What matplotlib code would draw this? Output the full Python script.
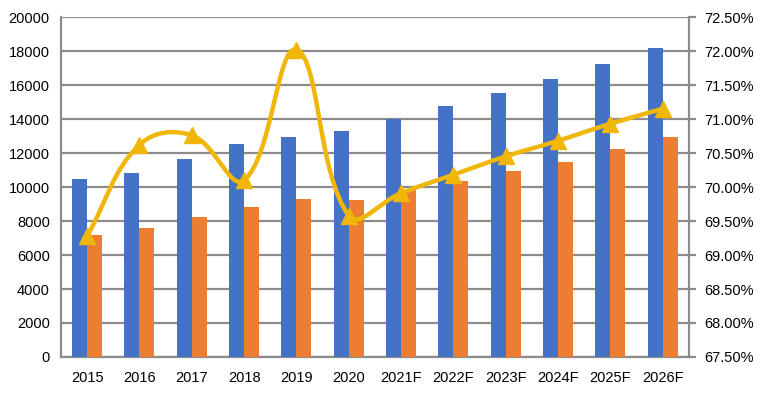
import numpy as np
import matplotlib
matplotlib.use("Agg")
import matplotlib.pyplot as plt
from matplotlib.path import Path
from matplotlib.patches import PathPatch
from matplotlib.ticker import FuncFormatter

plt.rcParams['font.family'] = ['Liberation Sans', 'DejaVu Sans']

years = ["2015", "2016", "2017", "2018", "2019", "2020",
         "2021F", "2022F", "2023F", "2024F", "2025F", "2026F"]
blue_vals = [10450, 10850, 11650, 12550, 12950, 13300,
             14000, 14750, 15550, 16350, 17250, 18200]
orange_vals = [7200, 7600, 8250, 8800, 9300, 9250,
               9850, 10350, 10950, 11500, 12250, 12950]
ratio_pct = [69.28, 70.62, 70.76, 70.10, 72.02, 69.58,
             69.91, 70.18, 70.45, 70.68, 70.93, 71.15]

BLUE = "#4472C4"
ORANGE = "#ED7D31"
GOLD = "#F0B70A"
GRID = "#8C8C8C"

fig = plt.figure(figsize=(7.67, 3.96), dpi=100)
ax = fig.add_axes([0.0795, 0.0985, 0.8185, 0.8585])
x = np.arange(len(years))
w = 0.287

ax.bar(x - w / 2, blue_vals, w, color=BLUE, zorder=3)
ax.bar(x + w / 2, orange_vals, w, color=ORANGE, zorder=3)

ax.set_xlim(-0.5, len(years) - 0.5)
ax.set_ylim(0, 20000)
ax.set_yticks(range(0, 20001, 2000))
ax.set_xticks(x)
ax.set_xticklabels(years)
ax.yaxis.grid(True, color=GRID, linewidth=1.6, zorder=0)
ax.set_axisbelow(True)
ax.tick_params(axis='x', length=0, pad=10, labelsize=10.5)
ax.tick_params(axis='y', length=0, pad=8, labelsize=10.5)
for s in ["top", "right"]:
    ax.spines[s].set_visible(False)
for s in ["left", "bottom"]:
    ax.spines[s].set_color(GRID)
    ax.spines[s].set_linewidth(1.6)

ax2 = ax.twinx()
ax2.set_ylim(67.5, 72.5)
ax2.set_yticks(np.arange(67.5, 72.51, 0.5))
ax2.yaxis.set_major_formatter(FuncFormatter(lambda v, p: f"{v:.2f}%"))
ax2.tick_params(axis='y', length=5, width=1.6, color=GRID, pad=6, labelsize=10.5)
for s in ["top", "left", "bottom"]:
    ax2.spines[s].set_visible(False)
ax2.spines["right"].set_color(GRID)
ax2.spines["right"].set_linewidth(1.6)

# smoothed line: bezier segments built in pixel space, tangent split by
# neighbouring segment lengths so short segments don't overshoot
SMOOTH = 0.4
pts = ax2.transData.transform(np.column_stack([x, ratio_pct]).astype(float))
n = len(pts)
seg = [np.hypot(*(pts[i + 1] - pts[i])) for i in range(n - 1)]
tan_out, tan_in = [], []
for i in range(n):
    prev = pts[i - 1] if i > 0 else pts[i]
    nxt = pts[i + 1] if i < n - 1 else pts[i]
    t = nxt - prev
    d0 = seg[i - 1] if i > 0 else 0.0
    d1 = seg[i] if i < n - 1 else 0.0
    tot = d0 + d1
    tan_in.append(t * (d0 / tot) * SMOOTH)
    tan_out.append(t * (d1 / tot) * SMOOTH)
verts = [pts[0]]
codes = [Path.MOVETO]
for i in range(n - 1):
    verts += [pts[i] + tan_out[i], pts[i + 1] - tan_in[i + 1], pts[i + 1]]
    codes += [Path.CURVE4] * 3
verts = ax2.transData.inverted().transform(np.array(verts))
ax2.add_patch(PathPatch(Path(verts, codes), facecolor="none", edgecolor=GOLD,
                        linewidth=3.2, zorder=4, capstyle="round"))
ax2.plot(x, ratio_pct, linestyle="none", marker="^", markersize=12,
         color=GOLD, zorder=5)

fig.savefig("out.png", dpi=100)
